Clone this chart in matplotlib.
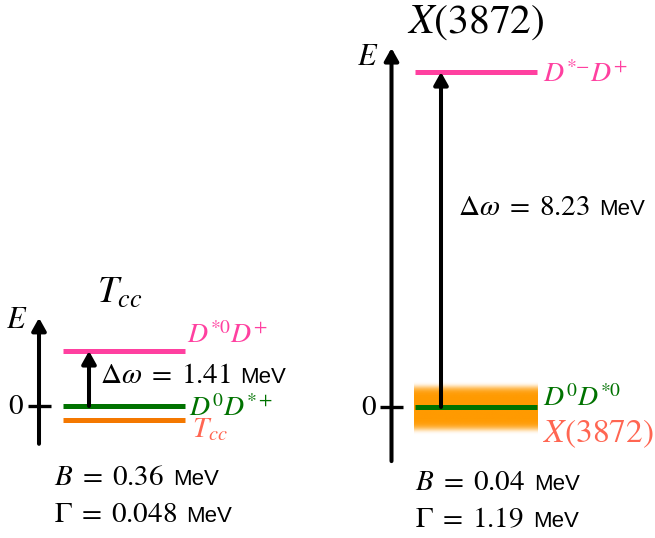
"""Energy level sketch: T_cc vs X(3872) relative to their nearest thresholds."""

import numpy as np
import matplotlib
matplotlib.use("Agg")
import matplotlib.pyplot as plt

plt.rcParams['font.family'] = ['Liberation Sans', 'DejaVu Sans']
plt.rcParams['mathtext.fontset'] = 'stix'

# level energies in MeV, relative to the lower threshold
tcc_levels = [1.41, 0.0, -0.36]          # D*0 D+, D0 D*+, Tcc
tcc_labels = [r'$D^{*0}D^{+}$', r'$D^{0}D^{*+}$', r'$T_{cc}$']
tcc_gap = 1.41
tcc_binding = 0.36
tcc_gamma = 0.048

x_levels = [8.23, 0.0, -0.04]            # D*- D+, D0 D*0, X(3872)
x_labels = [r'$D^{*{-}}D^{+}$', r'$D^{0}D^{*0}$', r'$X(3872)$']
x_gap = 8.23
x_binding = 0.04
x_gamma = 1.19

PINK = '#ff40a0'
GREEN = '#007200'
ORANGE = '#f47800'
BAND = '#ff9a00'
SALMON = '#ff6652'

fig = plt.figure(figsize=(6.55, 5.38), dpi=100)

# two overlaid axes, one per panel, each with its own energy scale
# (limits map the energies onto the page, about 39-41 px per MeV)
axL = fig.add_axes([0, 0, 1, 1])
axR = fig.add_axes([0, 0, 1, 1])
for ax in (axL, axR):
    ax.set_axis_off()
    ax.patch.set_alpha(0)
    ax.set_xlim(0, 655)
axL.set_ylim(-(538 - 406) / 39.0, 406 / 39.0)
axR.set_ylim(-(538 - 407) / 40.7, 407 / 40.7)

pending = []   # math texts that still need their "MeV"


def up_arrow(ax, x, y0, y1):
    ax.annotate('', xy=(x, y1), xytext=(x, y0),
                arrowprops=dict(arrowstyle='-|>,head_length=0.75,head_width=0.42',
                                mutation_scale=10, lw=2.9, color='black',
                                shrinkA=0, shrinkB=0))


def value_text(ax, x, y, math, size=21):
    t = ax.text(x, y, math, fontsize=size, va='baseline')
    pending.append((ax, t, y))


def panel(ax, xa, x0, x1, levels, e_bot, e_top, xarrow):
    # energy axis with zero tick
    up_arrow(ax, xa, e_bot, e_top)
    ax.plot([xa - 11.5, xa + 11.5], [0, 0], color='black', lw=2.4,
            solid_capstyle='butt')
    ax.text(xa - 15, 0, '$0$', fontsize=21, ha='right', va='center')
    for e, c in zip(levels, [PINK, GREEN, ORANGE]):
        ax.plot([x0, x1], [e, e], color=c, lw=3.6, solid_capstyle='butt',
                zorder=3)
    up_arrow(ax, xarrow, levels[1], levels[0])


# ---- left panel: Tcc
panel(axL, 39, 63, 185, tcc_levels, -0.97, 2.26, 89)
axL.text(187, 1.615, tcc_labels[0], color=PINK, fontsize=20, va='baseline')
axL.text(189, -0.25, tcc_labels[1], color=GREEN, fontsize=20, va='baseline')
axL.text(192, -0.79, tcc_labels[2], color=SALMON, fontsize=21, va='baseline')
axL.text(6, 2.0, '$E$', fontsize=22, va='baseline')
axL.text(97, 2.64, r'$T_{cc}$', fontsize=27, va='baseline')
value_text(axL, 100, 0.59, r'$\Delta\omega\;=\;%.2f$' % tcc_gap)
value_text(axL, 54, -2.03, r'$B\;=\;%.2f$' % tcc_binding)
value_text(axL, 54, -2.97, r'$\Gamma\;=\;%.3f$' % tcc_gamma)

# ---- right panel: X(3872)
# broad state drawn as a soft band of width Gamma around -B
yy = np.linspace(-x_gamma, x_gamma, 200)
alpha = np.exp(-(np.abs(yy - x_levels[2]) / (0.45 * x_gamma)) ** 8)
rgba = np.zeros((len(yy), 2, 4))
rgba[..., :3] = matplotlib.colors.to_rgb(BAND)
rgba[..., 3] = alpha[:, None]
axR.imshow(rgba, extent=[414, 538, -x_gamma, x_gamma], origin='lower',
           aspect='auto', interpolation='bilinear', zorder=1)
axR.set_xlim(0, 655)
axR.set_ylim(-(538 - 407) / 40.7, 407 / 40.7)

panel(axR, 391.5, 415, 537, x_levels[:2] + [np.nan], -1.33, 8.82, 441)
axR.text(543, 7.99, x_labels[0], color=PINK, fontsize=20, va='baseline')
axR.text(543, 0.03, x_labels[1], color=GREEN, fontsize=20, va='baseline')
axR.text(543, -0.86, x_labels[2], color=SALMON, fontsize=24, va='baseline')
axR.text(357, 8.40, '$E$', fontsize=22, va='baseline')
axR.text(407, 9.19, r'$X(3872)$', fontsize=30, va='baseline')
value_text(axR, 458, 4.72, r'$\Delta\omega\;=\;%.2f$' % x_gap)
value_text(axR, 415, -2.04, r'$B\;=\;%.2f$' % x_binding)
value_text(axR, 415, -2.95, r'$\Gamma\;=\;%.2f$' % x_gamma)

# sans-serif unit placed right after each serif math expression
renderer = fig.canvas.get_renderer()
for ax, t, y in pending:
    bb = t.get_window_extent(renderer)
    xu = ax.transData.inverted().transform((bb.x1 + 9, 0))[0]
    ax.text(xu, y, 'MeV', fontsize=16, va='baseline')

fig.savefig('out.png', dpi=100, facecolor='white')
